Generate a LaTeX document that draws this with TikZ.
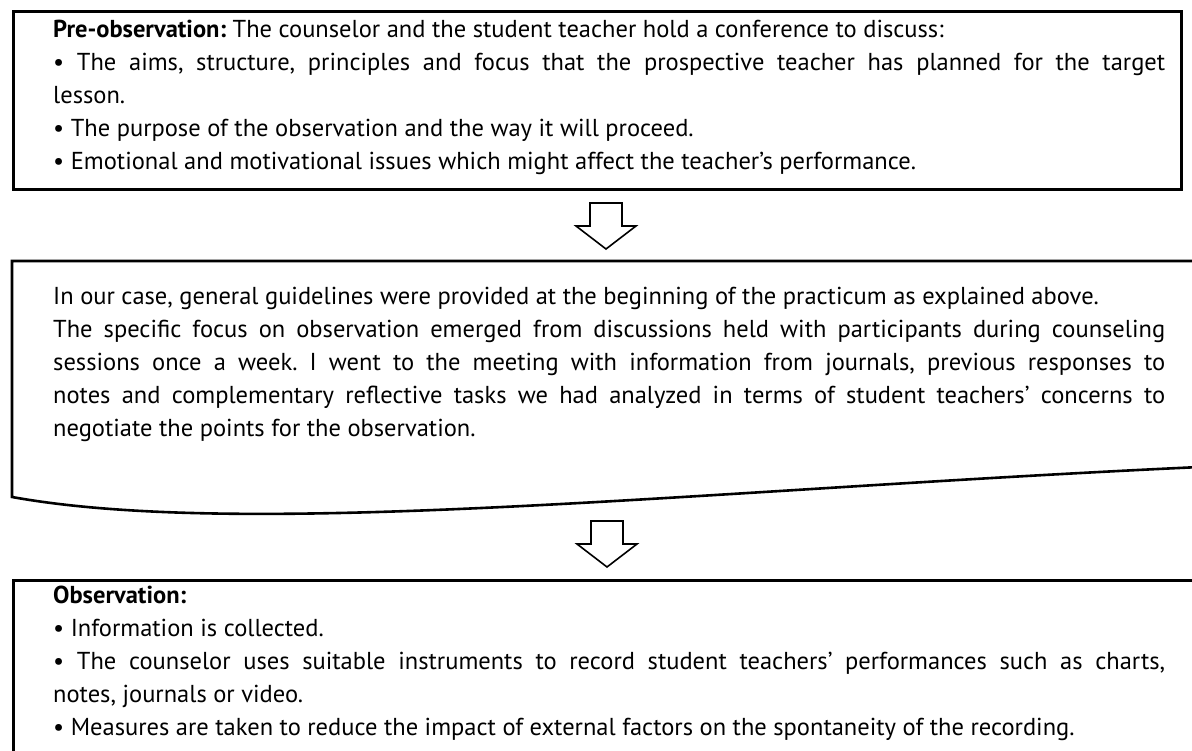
\documentclass[tikz,border=0pt]{standalone}
\usepackage{fontspec}
\setmainfont{PT Sans}
\usetikzlibrary{positioning}
\frenchspacing

\begin{document}
\begin{tikzpicture}[x=1pt, y=-1pt, line join=miter,
    frame/.style={draw, line width=2.6pt, inner sep=0pt, anchor=north west},
    body/.style={inner sep=0pt, anchor=north west, text width=1112pt, align=justify,
                 font=\fontsize{24.5}{33}\selectfont},
    blockarrow/.style={draw, line width=1.6pt}]
    \useasboundingbox (0,0) rectangle (1192,751);

    % Frames {pre, case, obs}
    \node [frame, minimum width=1168pt, minimum height=178pt] (pre) at (12,10) {};
    \coordinate (case) at (12,261);
    \draw [line width=2.6pt] (case) -- (1210,261) -- (1210,467) -- (1200,467)
        .. controls (700,490) and (250,540) .. (12,497) -- cycle;
    \node [frame, minimum width=1200pt, minimum height=200pt] (obs) at (12,579) {};

    % Texts
    \node [body, below right=10pt and 41pt of pre.north west] (pretext) {%
        \textbf{Pre-observation:} The counselor and the student teacher hold a conference to discuss:\\
        • The aims, structure, principles and focus that the prospective teacher has planned for the target\linebreak
        lesson.\\
        • The purpose of the observation and the way it will proceed.\\
        • Emotional and motivational issues which might affect the teacher's performance.};
    \node [body, below right=26pt and 41pt of case] (casetext) {%
        In our case, general guidelines were provided at the beginning of the practicum as explained above.\\
        The specific focus on observation emerged from discussions held with participants during counseling\linebreak
        sessions once a week. I went to the meeting with information from journals, previous responses to\linebreak
        notes and complementary reflective tasks we had analyzed in terms of student teachers' concerns to\linebreak
        negotiate the points for the observation.};
    \node [body, below right=7pt and 41pt of obs.north west] (obstext) {%
        \textbf{Observation:}\\
        • Information is collected.\\
        • The counselor uses suitable instruments to record student teachers' performances such as charts,\linebreak
        notes, journals or video.\\
        • Measures are taken to reduce the impact of external factors on the spontaneity of the recording.};

    % Block arrows between the frames
    \coordinate (a1) at (606,203);
    \coordinate (a2) at (607,521);
    \foreach \t in {a1,a2}
        \draw [blockarrow] (\t) ++(-16,0) -- ++(0,23) -- ++(-14,0) -- ++(30,23)
            -- ++(30,-23) -- ++(-14,0) -- ++(0,-23) -- cycle;
\end{tikzpicture}
\end{document}
